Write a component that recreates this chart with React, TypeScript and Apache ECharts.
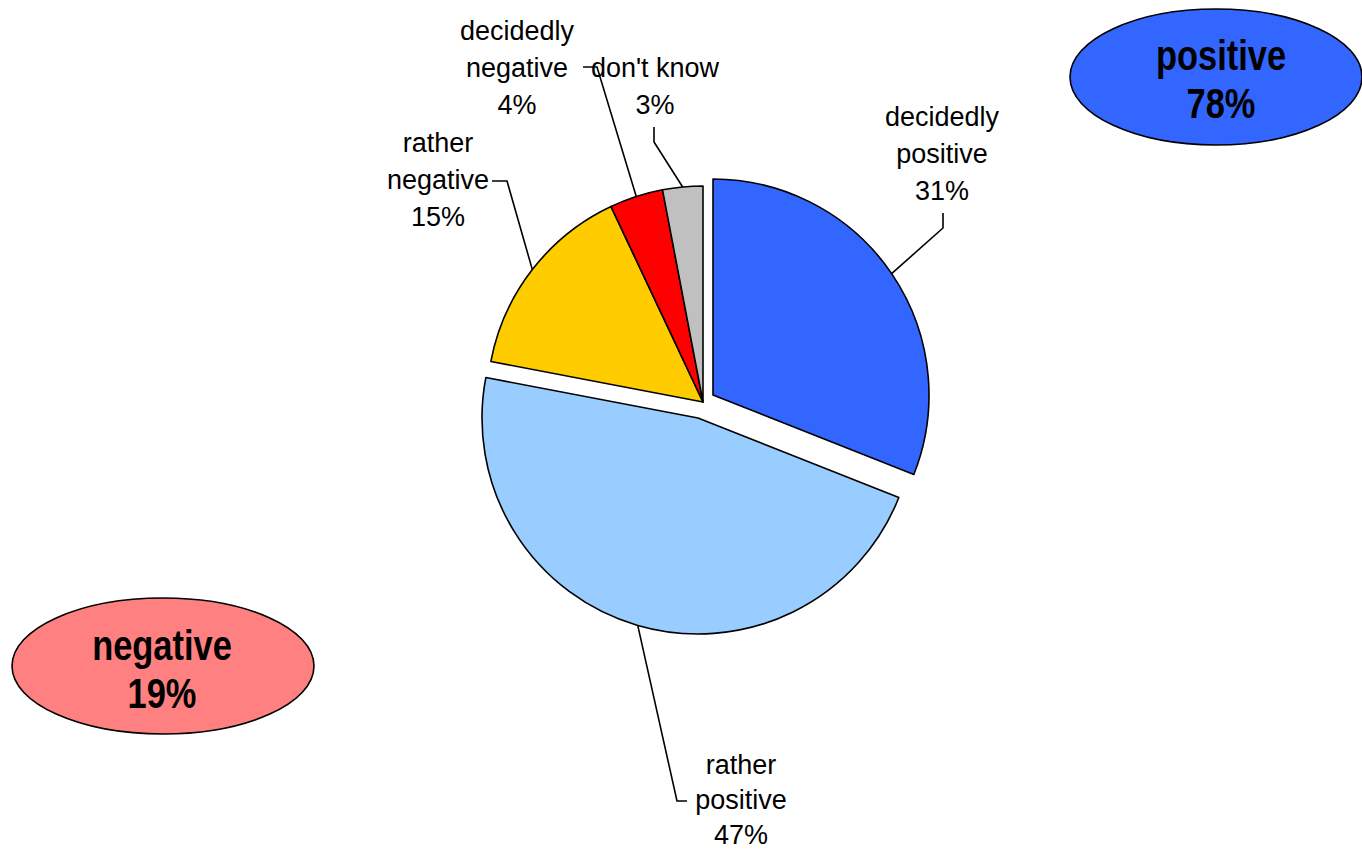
import React, { useEffect, useRef } from "react";
import * as echarts from "echarts";

// ---- data ----
const categories = ["decidedly positive", "rather positive", "rather negative", "decidedly negative", "don't know"];
const values = [31, 47, 15, 4, 3];
const labelTexts = ["decidedly\npositive", "rather\npositive", "rather\nnegative", "decidedly\nnegative", "don't know"];
const summaryNames = ["positive", "negative"];
const positiveIdx = [0, 1];
const negativeIdx = [2, 3];

// ---- styles / layout ----
const colors = ["#3366FF", "#99CCFF", "#FFCC00", "#FF0000", "#C0C0C0"];
const RADIUS = 216;
// each slice is drawn by one of these pies (exploded slices have shifted centres)
const pieCenters: number[][] = [
  [703, 402], // main
  [713, 395], // decidedly positive (exploded)
  [698, 418], // rather positive (exploded)
];
const sliceOwner = [1, 2, 0, 0, 0];
const labelLineHeights = [37, 35, 37, 37, 37];
const labelLayouts = [
  { x: 942, y: 154, line: [[943, 228], [943, 213]] },
  { x: 741, y: 800, line: [[677, 801], [687, 801]] },
  { x: 438, y: 180, line: [[507, 181], [492, 181]] },
  { x: 517, y: 68, line: [[597, 67], [583, 67]] },
  { x: 655, y: 86, line: [[654, 142], [654, 127]] },
];

function edgePoint(idx: number): number[] {
  const total = values.reduce((a, b) => a + b, 0);
  let before = 0;
  for (let i = 0; i < idx; i++) before += values[i];
  const mid = ((before + values[idx] / 2) / total) * Math.PI * 2;
  const c = pieCenters[sliceOwner[idx]];
  return [c[0] + RADIUS * Math.sin(mid), c[1] - RADIUS * Math.cos(mid)];
}

function buildSeries(owner: number) {
  return {
    type: "pie",
    center: pieCenters[owner],
    radius: RADIUS,
    startAngle: 90,
    clockwise: true,
    silent: true,
    avoidLabelOverlap: false,
    emphasis: { disabled: true },
    data: categories.map((name, i) => {
      const mine = sliceOwner[i] === owner;
      return {
        name,
        value: values[i],
        itemStyle: mine
          ? { color: colors[i], borderColor: "#000", borderWidth: 1.6 }
          : { color: "rgba(0,0,0,0)", borderWidth: 0 },
        label: { show: mine, lineHeight: labelLineHeights[i] },
        labelLine: { show: mine },
      };
    }),
    label: {
      show: true,
      position: "outside",
      formatter: (p: any) => `${labelTexts[p.dataIndex]}\n${p.value}%`,
      fontFamily: "'Liberation Sans', Arial, sans-serif",
      fontSize: 27,
      lineHeight: 37,
      color: "#000",
      align: "center",
    },
    labelLine: {
      show: true,
      lineStyle: { color: "#000", width: 1.6 },
    },
    labelLayout: (params: any) => {
      const i = params.dataIndex;
      if (sliceOwner[i] !== owner) return {};
      const L = labelLayouts[i];
      const start =
        params.labelLinePoints && params.labelLinePoints[0]
          ? params.labelLinePoints[0]
          : edgePoint(i);
      return {
        x: L.x,
        y: L.y,
        align: "center",
        verticalAlign: "middle",
        labelLinePoints: [start, L.line[0], L.line[1]],
      };
    },
  };
}

export default function App() {
  const ref = useRef<HTMLDivElement>(null);
  useEffect(() => {
    if (!ref.current) return;
    const chart = echarts.init(ref.current, null, { renderer: "svg" });
    const posTotal = positiveIdx.reduce((a, i) => a + values[i], 0);
    const negTotal = negativeIdx.reduce((a, i) => a + values[i], 0);
    const bigFont = "bold 42px 'Liberation Sans', Arial, sans-serif";
    chart.setOption({
      animation: false,
      backgroundColor: "#ffffff",
      series: [buildSeries(0), buildSeries(1), buildSeries(2)],
      graphic: [
        {
          type: "ellipse",
          shape: { cx: 1216, cy: 77, rx: 146, ry: 68 },
          style: { fill: "#3366FF", stroke: "#000", lineWidth: 1.6 },
          silent: true,
        },
        {
          type: "text",
          x: 1221,
          y: 79,
          scaleX: 0.82,
          style: {
            text: `${summaryNames[0]}\n${posTotal}%`,
            font: bigFont,
            fill: "#000",
            align: "center",
            verticalAlign: "middle",
            lineHeight: 48,
          },
          silent: true,
        },
        {
          type: "ellipse",
          shape: { cx: 163, cy: 666, rx: 151, ry: 68 },
          style: { fill: "#FF8080", stroke: "#000", lineWidth: 1.6 },
          silent: true,
        },
        {
          type: "text",
          x: 162,
          y: 669,
          scaleX: 0.82,
          style: {
            text: `${summaryNames[1]}\n${negTotal}%`,
            font: bigFont,
            fill: "#000",
            align: "center",
            verticalAlign: "middle",
            lineHeight: 48,
          },
          silent: true,
        },
      ],
    });
    return () => chart.dispose();
  }, []);
  return (
    <div
      ref={ref}
      style={{ position: "fixed", left: 0, top: 0, width: 1362, height: 853 }}
    />
  );
}
